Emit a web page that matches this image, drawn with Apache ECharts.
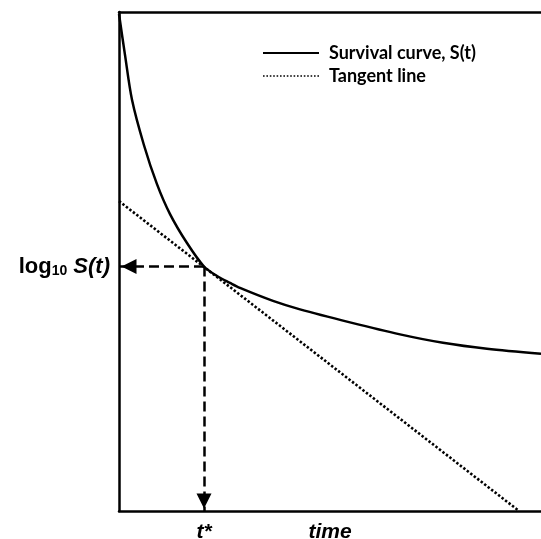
<!DOCTYPE html>
<html>
<head>
<meta charset="utf-8">
<script src="https://cdn.jsdelivr.net/npm/echarts@6/dist/echarts.min.js"></script>
<style>
  html, body { margin: 0; padding: 0; background: #fff; }
  #chart { width: 541px; height: 539px; }
</style>
</head>
<body>
<div id="chart"></div>
<script>
// Survival curve on a log scale, sampled along time (arbitrary units 0-100)
const timeVals = [0, 1.42, 3.08, 5.92, 9.0, 12.09, 16.11, 20.14, 23.22, 26.3, 28.67, 36.49, 42.89, 54.74, 66.59, 76.78, 87.2, 100];
const logSurvival = [99.6, 91.4, 82.4, 73.3, 65.5, 59.5, 53.7, 49.0, 47.1, 45.7, 44.7, 42.1, 40.4, 37.8, 35.4, 33.7, 32.5, 31.5];

// Tangent line touching the curve at t*
const tangentTime = [0, 94.8];
const tangentLog = [62.1, 0];

// Point of tangency
const tStar = 20.14;
const logSAtTStar = 49.0;

// Labels under the time axis and their positions
const xLabelValues = [tStar, 50];
const xLabelTexts = ['t*', 'time'];

const seriesNames = ['Survival curve, S(t)', 'Tangent line'];

const curveData = timeVals.map((t, i) => [t, logSurvival[i]]);
const tangentData = tangentTime.map((t, i) => [t, tangentLog[i]]);

const black = '#000';
const arial = 'Liberation Sans, Arial, sans-serif';
const axisLine = { show: true, onZero: false, lineStyle: { color: black, width: 2.5 } };
const hiddenSymbol = { color: 'rgba(0,0,0,0)', opacity: 0, borderWidth: 0 };

const chart = echarts.init(document.getElementById('chart'));
chart.setOption({
  animation: false,
  backgroundColor: '#fff',
  grid: { left: 119, right: 0, top: 12, bottom: 28, containLabel: false, outerBoundsMode: 'none' },
  legend: {
    orient: 'vertical',
    left: 262,
    top: 44,
    padding: 0,
    itemWidth: 56,
    itemHeight: 14,
    itemGap: 5,
    selectedMode: false,
    textStyle: {
      fontFamily: 'Lato, "Open Sans", sans-serif',
      fontWeight: 'bold',
      fontSize: 18,
      color: black,
      padding: [0, 0, 0, 5]
    },
    data: [
      { name: seriesNames[0], itemStyle: hiddenSymbol, lineStyle: { color: black, width: 2, type: 'solid' } },
      { name: seriesNames[1], itemStyle: hiddenSymbol, lineStyle: { color: black, width: 1.6, type: [1.6, 1.8] } }
    ]
  },
  xAxis: [
    {
      type: 'value', min: 0, max: 100, position: 'bottom',
      axisLine: axisLine, axisTick: { show: false }, splitLine: { show: false },
      axisLabel: {
        customValues: xLabelValues,
        formatter: (v) => xLabelTexts[xLabelValues.indexOf(v)],
        margin: 11,
        fontFamily: arial,
        fontWeight: 'bold',
        fontStyle: 'italic',
        fontSize: 21,
        color: black
      }
    },
    {
      type: 'value', min: 0, max: 100, position: 'top',
      axisLine: axisLine, axisTick: { show: false }, splitLine: { show: false }, axisLabel: { show: false }
    }
  ],
  yAxis: {
    type: 'value', min: 0, max: 100,
    axisLine: axisLine, axisTick: { show: false }, splitLine: { show: false },
    axisLabel: {
      customValues: [logSAtTStar],
      margin: 9,
      formatter: () => '{a|log}{b|10}{c| S(}{d|t}{c|)}',
      rich: {
        a: { fontFamily: arial, fontWeight: 'bold', fontSize: 22, color: black },
        b: { fontFamily: arial, fontWeight: 'bold', fontSize: 14, color: black, padding: [10, 0, 0, 0] },
        c: { fontFamily: arial, fontWeight: 'bold', fontStyle: 'italic', fontSize: 22, color: black },
        d: { fontFamily: arial, fontWeight: 'bold', fontStyle: 'italic', fontSize: 22, color: black }
      }
    }
  },
  series: [
    {
      name: seriesNames[1],
      type: 'line',
      data: tangentData,
      symbol: 'none',
      silent: true,
      color: black,
      lineStyle: { color: black, width: 2.6, type: [2.4, 2] },
      z: 2
    },
    {
      name: seriesNames[0],
      type: 'line',
      data: curveData,
      symbol: 'none',
      smooth: 0.3,
      silent: true,
      color: black,
      lineStyle: { color: black, width: 2.5 },
      z: 3,
      markLine: {
        silent: true,
        symbol: ['none', 'triangle'],
        symbolSize: [15, 15],
        symbolOffset: [[0, 0], [0, 10]],
        label: { show: false },
        lineStyle: { color: black, width: 2.5, type: [10, 5] },
        itemStyle: { color: black },
        emphasis: { disabled: true },
        data: [
          [{ coord: [tStar, logSAtTStar] }, { coord: [0, logSAtTStar] }],
          [{ coord: [tStar, logSAtTStar] }, { coord: [tStar, 0] }]
        ]
      }
    }
  ]
});
</script>
</body>
</html>
